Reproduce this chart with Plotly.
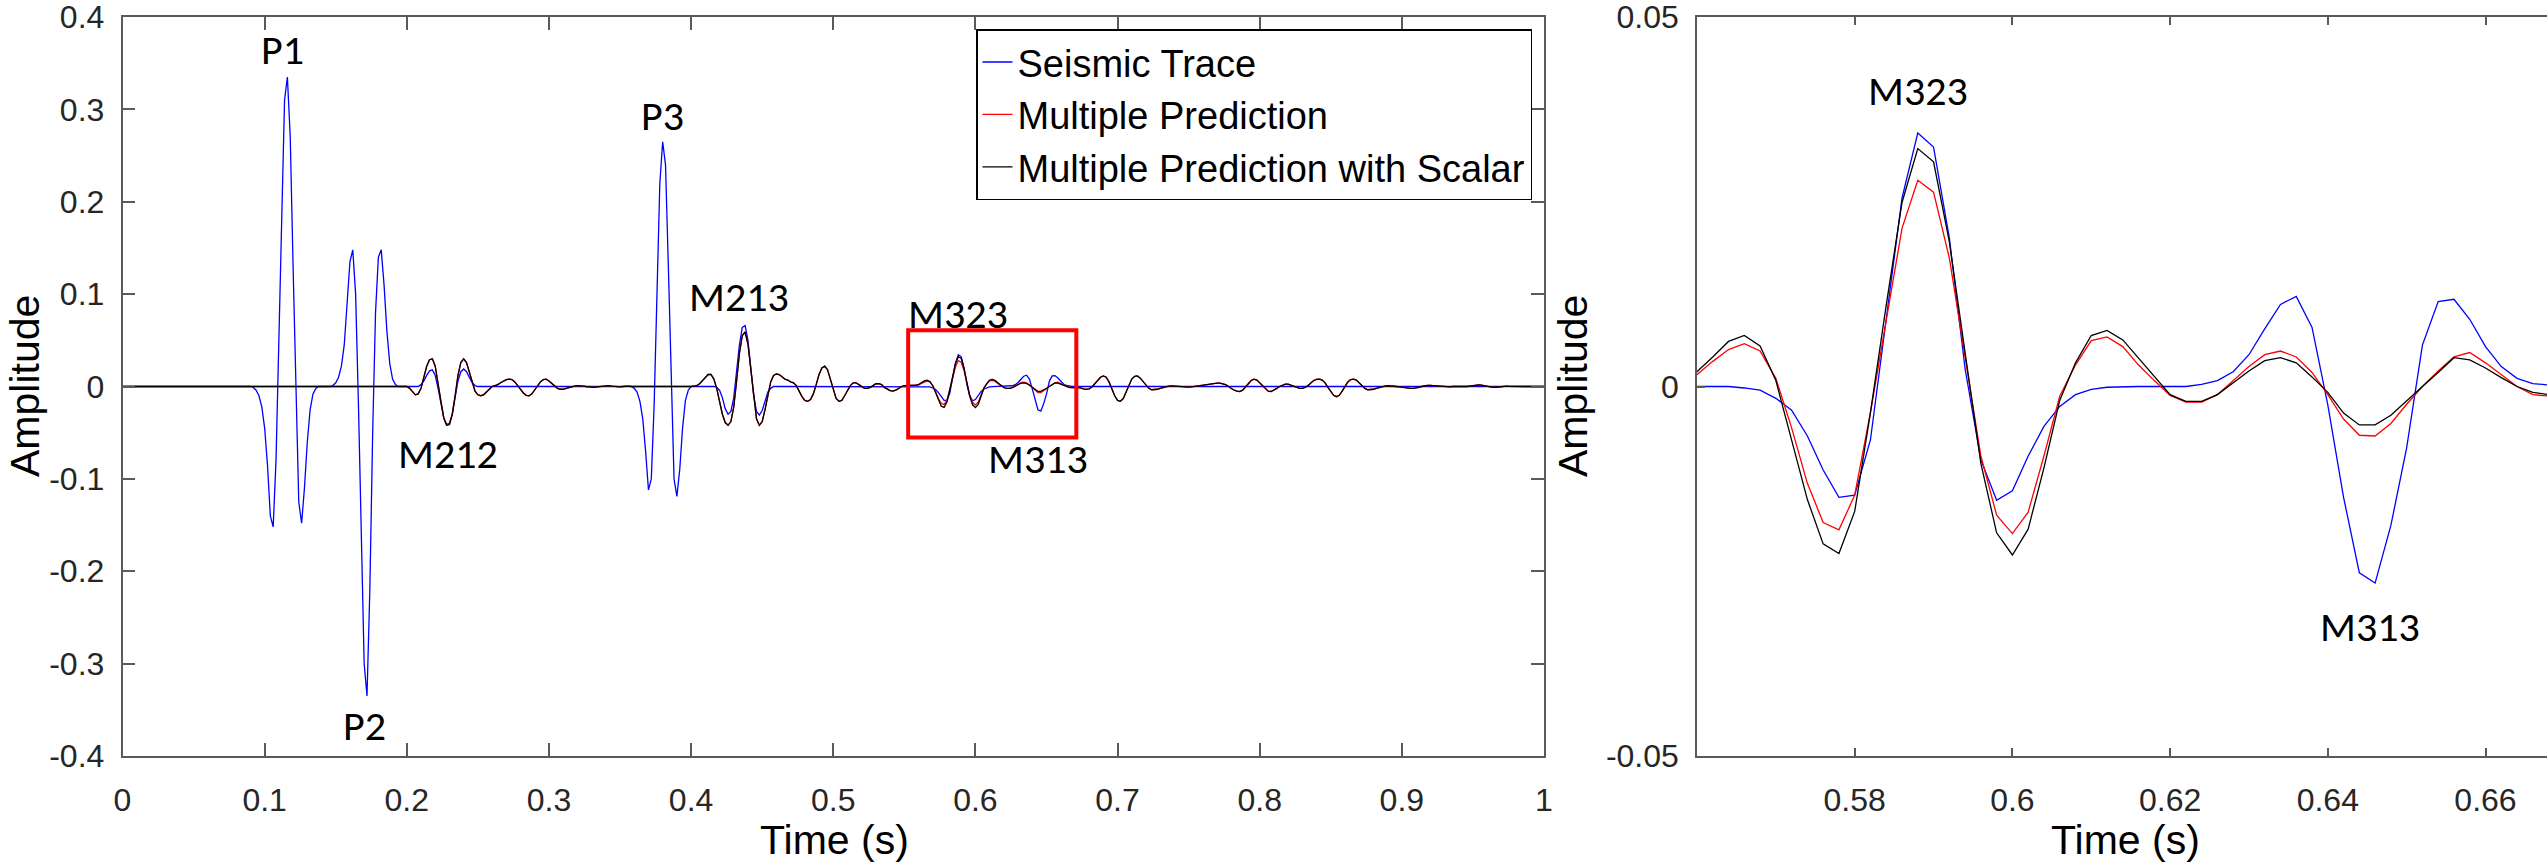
import numpy as np
import plotly.graph_objects as go

# ---------------- data (sample interval 0.002 s, 0 .. 1 s) ----------------
sample_interval = 0.002
time_s = np.round(np.arange(501) * sample_interval, 3)

# Seismic trace segments
trace_p1 = [0.0, -0.001, -0.004, -0.010, -0.022, -0.045, -0.085, -0.140, -0.152, -0.080,
            0.040, 0.190, 0.310, 0.335, 0.270, 0.130, -0.010, -0.125, -0.148, -0.110,
            -0.060, -0.025, -0.008, -0.002, 0.0, 0.0]                      # 0.090 .. 0.140
trace_p2 = [0.001, 0.004, 0.010, 0.022, 0.045, 0.085, 0.135, 0.148, 0.100, -0.020,
            -0.160, -0.300, -0.335, -0.220, -0.050, 0.080, 0.140, 0.148, 0.110, 0.060,
            0.025, 0.008, 0.002, 0.0, 0.0]                                  # 0.148 .. 0.196
trace_m212 = [0.002, 0.006, 0.012, 0.017, 0.018, 0.012, -0.002, -0.018, -0.034, -0.041,
              -0.040, -0.030, -0.012, 0.006, 0.016, 0.019, 0.016, 0.009, 0.004, 0.001, 0.0]  # 0.210 .. 0.250
trace_p3 = [0.0, -0.002, -0.006, -0.016, -0.035, -0.070, -0.112, -0.100, -0.020, 0.100,
            0.220, 0.265, 0.240, 0.130, 0.000, -0.100, -0.119, -0.090, -0.045, -0.015,
            -0.004, 0.0]                                                    # 0.358 .. 0.400
trace_m213 = [-0.001, -0.004, -0.012, -0.024, -0.030, -0.027, -0.012, 0.015, 0.045, 0.064,
              0.066, 0.050, 0.020, -0.010, -0.027, -0.031, -0.026, -0.015, -0.006, -0.002, 0.0]  # 0.418 .. 0.458
trace_box = [0.0, 0.0, 0.0, -0.0002, -0.0005, -0.0016, -0.0032, -0.0067, -0.0113, -0.0150,
             -0.0147, -0.0072, 0.0094, 0.0255, 0.0343, 0.0324, 0.0201, 0.0024, -0.0099, -0.0154,
             -0.0141, -0.0094, -0.0054, -0.0027, -0.0011, -0.0004,
             -0.0001, 0.0, 0.0, 0.0, 0.0, 0.0, 0.0003, 0.0008, 0.0020, 0.0043,
             0.0078, 0.0111, 0.0122, 0.0080, -0.0025, -0.0150, -0.0252, -0.0266, -0.0188, -0.0083,
             0.0056, 0.0115, 0.0118, 0.0091, 0.0054, 0.0027, 0.0011, 0.0004, 0.0002]  # 0.560 .. 0.668

# Multiple prediction (red and black coincide outside the zoom window)
prediction_early = [
    0.0, -0.002, -0.005, -0.009, -0.008, -0.002, 0.010, 0.022, 0.029, 0.030,
    0.022, 0.005, -0.016, -0.034, -0.042, -0.041, -0.030, -0.010, 0.012, 0.026,
    0.030, 0.026, 0.015, 0.003, -0.005, -0.009, -0.010, -0.009, -0.006, -0.003,
    0.0, 0.001, 0.002, 0.004, 0.006, 0.0075, 0.008, 0.0075, 0.005, 0.001,
    -0.003, -0.007, -0.0095, -0.010, -0.008, -0.004, 0.001, 0.005, 0.0075, 0.008,
    0.006, 0.003, 0.0, -0.002, -0.003, -0.003, -0.002, -0.001, 0.0, 0.0005,
    0.001, 0.001, 0.0005, 0.0, -0.0005, -0.001, -0.001, -0.0005, 0.0, 0.0005,
    0.001, 0.001, 0.0005, 0.0, -0.0005, -0.0005, 0.0, 0.0005, 0.0005, 0.0,
    0.0, 0.0, 0.0, 0.0, 0.0, 0.0, 0.0, 0.0, 0.0, 0.0,
    0.0, 0.0, 0.0, 0.0, 0.0, 0.0, 0.0, -0.0003, -0.0005, -0.0003,
    0.0, 0.0005, 0.001, 0.003, 0.006, 0.010, 0.013, 0.013, 0.008, -0.002,
    -0.016, -0.030, -0.039, -0.042, -0.038, -0.022, 0.006, 0.036, 0.055, 0.059,
    0.046, 0.018, -0.013, -0.035, -0.042, -0.038, -0.025, -0.008, 0.005, 0.012,
    0.0135, 0.013, 0.010, 0.008, 0.007, 0.005, 0.004, 0.001, -0.005, -0.011,
    -0.015, -0.016, -0.014, -0.008, 0.002, 0.013, 0.020, 0.022, 0.018, 0.008,
    -0.004, -0.013, -0.016, -0.015, -0.010, -0.004, 0.001, 0.004, 0.004, 0.002,
    0.0, -0.002, -0.002, -0.001, 0.001, 0.003, 0.003, 0.002, -0.001, -0.003,
    -0.0045, -0.005, -0.004, -0.002, 0.0, 0.001, 0.001, 0.001, 0.001, 0.0015]   # 0.200 .. 0.558
prediction_late = [
    -0.0012, -0.0012, -0.0015, -0.0025, -0.003, -0.0025, -0.0005, 0.003, 0.007, 0.010,
    0.0115, 0.010, 0.005, -0.003, -0.010, -0.015, -0.016, -0.013, -0.006, 0.002,
    0.008, 0.011, 0.0115, 0.009, 0.005, 0.001, -0.002, -0.0035, -0.0036, -0.003,
    -0.002, -0.001, 0.0, 0.0005, 0.0007, 0.0005, 0.0, -0.0004, -0.0007, -0.0007,
    -0.0007, -0.0005, 0.0, 0.0005, 0.001, 0.0015, 0.002, 0.0028, 0.0033, 0.0036,
    0.0036, 0.0036, 0.003, 0.002, 0.0, -0.002, -0.004, -0.005, -0.0054, -0.004,
    -0.001, 0.003, 0.0065, 0.008, 0.007, 0.004, 0.0, -0.003, -0.005, -0.0054,
    -0.004, -0.002, 0.0, 0.0015, 0.0025, 0.0025, 0.0015, 0.0, -0.0012, -0.002,
    -0.002, -0.001, 0.001, 0.004, 0.0065, 0.0078, 0.008, 0.007, 0.004, -0.001,
    -0.006, -0.0095, -0.011, -0.0095, -0.005, 0.0005, 0.005, 0.0075, 0.008, 0.007,
    0.004, 0.001, -0.002, -0.0035, -0.0036, -0.003, -0.002, -0.001, 0.0, 0.0005,
    0.0008, 0.0008, 0.0005, 0.0, -0.0005, -0.001, -0.0015, -0.0018, -0.002, -0.002,
    -0.0018, -0.001, 0.0, 0.0008, 0.0012, 0.0012, 0.001, 0.0005, 0.0, -0.0003,
    -0.0005, -0.0005, -0.0003, 0.0, 0.0002, 0.0003, 0.0003, 0.0002, 0.0, 0.0005,
    0.001, 0.0015, 0.0018, 0.0015, 0.001, 0.0, -0.0008, -0.001, -0.0008, -0.0004,
    0.0, 0.0002, 0.0003, 0.0002, 0.0,
    0.0, 0.0, 0.0, 0.0, 0.0, 0.0, 0.0, 0.0, 0.0, 0.0, 0.0]               # 0.670 .. 1.000
prediction_box = [0.0016, 0.0034, 0.0050, 0.0058, 0.0048, 0.0011, -0.0056, -0.0131, -0.0184, -0.0194,
                  -0.0147, -0.0035, 0.0088, 0.0214, 0.0279, 0.0263, 0.0174, 0.0040, -0.0094, -0.0174,
                  -0.0199, -0.0170, -0.0094, -0.0013, 0.0029, 0.0062,
                  0.0067, 0.0054, 0.0029, 0.0008, -0.0012, -0.0021, -0.0021, -0.0011, 0.0008, 0.0027,
                  0.0043, 0.0048, 0.0040, 0.0019, -0.0011, -0.0044, -0.0066, -0.0067, -0.0050, -0.0024,
                  0.0000, 0.0021, 0.0040, 0.0046, 0.0032, 0.0016, 0.0000, -0.0011, -0.0013]   # 0.560 .. 0.668
scaled_box = [0.0020, 0.0040, 0.0061, 0.0069, 0.0055, 0.0008, -0.0072, -0.0153, -0.0213, -0.0226,
              -0.0169, -0.0035, 0.0110, 0.0249, 0.0322, 0.0304, 0.0196, 0.0046, -0.0104, -0.0198,
              -0.0228, -0.0193, -0.0110, -0.0019, 0.0032, 0.0069,
              0.0076, 0.0063, 0.0038, 0.0013, -0.0011, -0.0020, -0.0020, -0.0011, 0.0005, 0.0021,
              0.0035, 0.0039, 0.0032, 0.0013, -0.0008, -0.0036, -0.0052, -0.0052, -0.0039, -0.0019,
              0.0000, 0.0019, 0.0039, 0.0036, 0.0025, 0.0012, 0.0000, -0.0008, -0.0011]        # 0.560 .. 0.668

seismic_trace = ([0.0] * 45 + trace_p1 + [0.0] * 3 + trace_p2 + [0.0] * 6 + trace_m212
                 + [0.0] * 53 + trace_p3 + [0.0] * 8 + trace_m213 + [0.0] * 50 + trace_box
                 + [0.0] * 166)
multiple_prediction = [0.0] * 100 + prediction_early + prediction_box + prediction_late
multiple_prediction_scalar = [0.0] * 100 + prediction_early + scaled_box + prediction_late

series_names = ["Seismic Trace", "Multiple Prediction", "Multiple Prediction with Scalar"]
series_colors = ["#0000FF", "#FF0000", "#000000"]

left_xticks = [0, 0.1, 0.2, 0.3, 0.4, 0.5, 0.6, 0.7, 0.8, 0.9, 1]
left_xtext = ["0", "0.1", "0.2", "0.3", "0.4", "0.5", "0.6", "0.7", "0.8", "0.9", "1"]
left_yticks = [-0.4, -0.3, -0.2, -0.1, 0, 0.1, 0.2, 0.3, 0.4]
left_ytext = ["-0.4", "-0.3", "-0.2", "-0.1", "0", "0.1", "0.2", "0.3", "0.4"]
right_xticks = [0.58, 0.6, 0.62, 0.64, 0.66]
right_xtext = ["0.58", "0.6", "0.62", "0.64", "0.66"]
right_yticks = [-0.05, 0, 0.05]
right_ytext = ["-0.05", "0", "0.05"]

left_labels = ["P1", "P2", "P3", "M212", "M213", "M323", "M313"]
left_label_x = [0.1129, 0.1705, 0.3801, 0.229, 0.4336, 0.5877, 0.6439]
left_label_y = [0.365, -0.367, 0.293, -0.072, 0.097, 0.079, -0.078]
right_labels = ["M323", "M313"]
right_label_x = [0.588, 0.6453]
right_label_y = [0.040, -0.0325]

zoom_box_x = [0.5527, 0.671]
zoom_box_y = [-0.0553, 0.0610]

# ---------------- figure ----------------
W, H = 2547, 868
TOP, BOTTOM = 17, 112
plot_h = H - TOP - BOTTOM
fig = go.Figure()
all_series = [seismic_trace, multiple_prediction, multiple_prediction_scalar]
for name, color, vals in zip(series_names, series_colors, all_series):
    fig.add_trace(go.Scatter(x=time_s, y=vals, mode="lines", name=name,
                             line=dict(color=color, width=1.3), xaxis="x", yaxis="y"))
for name, color, vals in zip(series_names, series_colors, all_series):
    fig.add_trace(go.Scatter(x=time_s, y=vals, mode="lines", name=name, showlegend=False,
                             line=dict(color=color, width=1.3), xaxis="x2", yaxis="y2"))

axis_color = "#5a5a5a"
tick_font = dict(family="Liberation Sans, Arial, sans-serif", size=32, color="#262626")
common = dict(showline=True, linecolor=axis_color, linewidth=1.5, ticks="inside",
              tickcolor=axis_color, tickwidth=1.5, showgrid=False, zeroline=False,
              tickfont=tick_font, automargin=False, tickmode="array",
              ticklabeloverflow="allow")

left_x0, left_x1 = 122.5 / W, 1544 / W
right_x0 = 1697 / W
fig.update_layout(
    width=W, height=H,
    margin=dict(l=0, r=0, t=TOP, b=BOTTOM),
    plot_bgcolor="white", paper_bgcolor="white",
    xaxis=dict(domain=[left_x0, left_x1], range=[0, 1], mirror="ticks", ticklen=13,
               tickvals=left_xticks, ticktext=left_xtext, anchor="y", ticklabelstandoff=15, **common),
    yaxis=dict(domain=[0, 1], range=[-0.4, 0.4], mirror="ticks", ticklen=13,
               tickvals=left_yticks, ticktext=left_ytext, anchor="x", ticklabelstandoff=10, **common),
    xaxis2=dict(domain=[right_x0, 1], range=[0.56, 0.6678], mirror="ticks", ticklen=8,
                tickvals=right_xticks, ticktext=right_xtext, anchor="y2", ticklabelstandoff=15, **common),
    yaxis2=dict(domain=[0, 1], range=[-0.05, 0.05], mirror=False, ticklen=8,
                tickvals=right_yticks, ticktext=right_ytext, anchor="x2", ticklabelstandoff=10, **common),
    legend=dict(x=1532 / W, xanchor="right", y=(756 - 29.3) / plot_h, yanchor="top",
                bgcolor="white", bordercolor="#000000", borderwidth=1.5, itemwidth=30,
                font=dict(family="Liberation Sans, Arial, sans-serif", size=38, color="black"),
                tracegroupgap=0),
    showlegend=True,
)

fig.add_shape(type="rect", xref="x", yref="y", x0=zoom_box_x[0], x1=zoom_box_x[1],
              y0=zoom_box_y[0], y1=zoom_box_y[1], line=dict(color="#FF0000", width=4))

label_font = dict(family="Carlito, Lato, sans-serif", size=42, color="black")
for txt, xv, yv in zip(left_labels, left_label_x, left_label_y):
    fig.add_annotation(x=xv, y=yv, xref="x", yref="y", text=txt, showarrow=False, font=label_font,
                       xanchor="center", yanchor="middle")
for txt, xv, yv in zip(right_labels, right_label_x, right_label_y):
    fig.add_annotation(x=xv, y=yv, xref="x2", yref="y2", text=txt, showarrow=False, font=label_font,
                       xanchor="center", yanchor="middle")

title_font = dict(family="Liberation Sans, Arial, sans-serif", size=41, color="black")
title_y = (756 - 840) / plot_h
fig.add_annotation(x=834 / W, y=title_y, xref="paper", yref="paper", text="Time (s)",
                   showarrow=False, font=title_font, xanchor="center", yanchor="middle")
fig.add_annotation(x=2125 / W, y=title_y, xref="paper", yref="paper", text="Time (s)",
                   showarrow=False, font=title_font, xanchor="center", yanchor="middle")
fig.add_annotation(x=25 / W, y=(756 - 386) / plot_h, xref="paper", yref="paper", text="Amplitude",
                   textangle=-90, showarrow=False, font=title_font, xanchor="center", yanchor="middle")
fig.add_annotation(x=1573 / W, y=(756 - 386) / plot_h, xref="paper", yref="paper", text="Amplitude",
                   textangle=-90, showarrow=False, font=title_font, xanchor="center", yanchor="middle")

fig.write_html("out.html")
